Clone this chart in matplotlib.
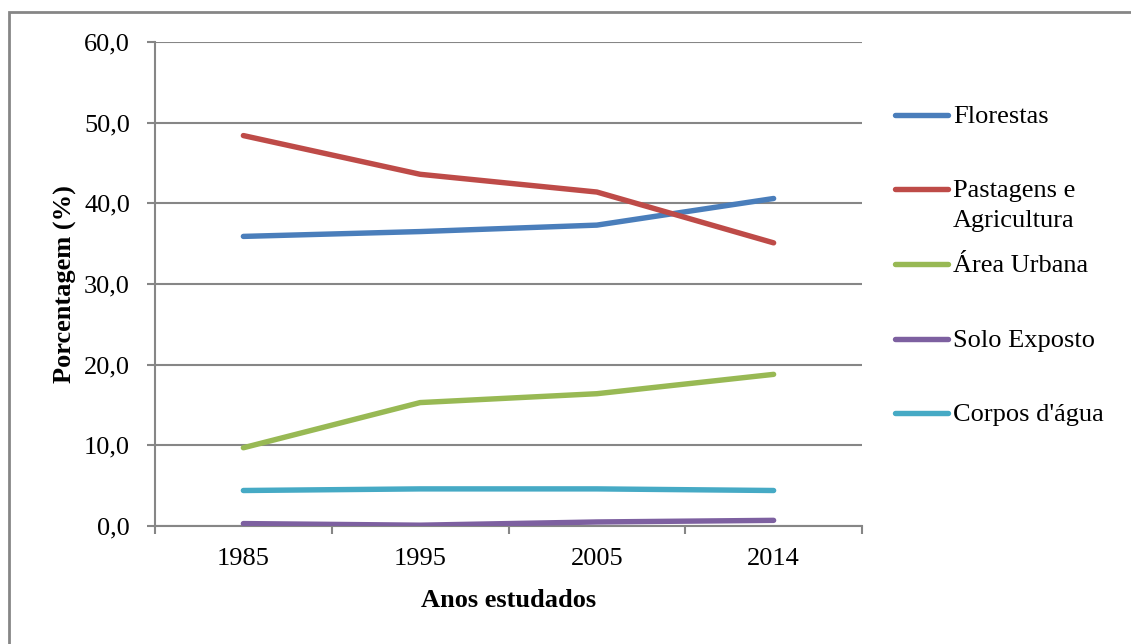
import matplotlib
matplotlib.use("Agg")
import matplotlib.pyplot as plt
from matplotlib.lines import Line2D
from matplotlib.patches import Rectangle

plt.rcParams['font.family'] = ['Liberation Serif', 'DejaVu Serif']

anos = ["1985", "1995", "2005", "2014"]
florestas = [35.9, 36.5, 37.3, 40.6]
pastagens = [48.4, 43.6, 41.4, 35.1]
area_urbana = [9.7, 15.3, 16.4, 18.8]
solo_exposto = [0.3, 0.1, 0.5, 0.7]
corpos_agua = [4.4, 4.6, 4.6, 4.4]

nomes = ["Florestas", "Pastagens e\nAgricultura", "Área Urbana", "Solo Exposto", "Corpos d'água"]
cores = ["#4A7EBB", "#BE4B48", "#98B954", "#7D60A0", "#46AAC5"]
series = [florestas, pastagens, area_urbana, solo_exposto, corpos_agua]
y_ticks = [0, 10, 20, 30, 40, 50, 60]

W, H = 1131, 644
FS = 19
fig = plt.figure(figsize=(W / 100, H / 100), dpi=100)
ax = fig.add_axes([155 / W, 1 - 526 / H, 707 / W, 484 / H])

grid_col = "#868686"
x = list(range(len(anos)))
for vals, cor, nome in zip(series, cores, nomes):
    ax.plot(x, vals, color=cor, lw=3.9, solid_capstyle='round', solid_joinstyle='round', label=nome, zorder=3)

ax.set_xlim(-0.5, len(anos) - 0.5)
ax.set_ylim(0, 60)
ax.set_yticks(y_ticks)
ax.set_yticklabels([f"{v:.1f}".replace(".", ",") for v in y_ticks])
ax.set_xticks(x)
ax.set_xticklabels(anos)
ax.tick_params(axis='x', length=0, pad=15.5, labelsize=FS)
ax.tick_params(axis='y', length=6, width=1.5, color=grid_col, pad=12, labelsize=FS)
# category boundary ticks on the x axis
ax.set_xticks([i - 0.5 for i in range(len(anos) + 1)], minor=True)
ax.tick_params(axis='x', which='minor', length=5.5, width=1.5, color=grid_col)

ax.grid(axis='y', color=grid_col, lw=1.5, zorder=1)
for s in ['top', 'right']:
    ax.spines[s].set_visible(False)
for s in ['left', 'bottom']:
    ax.spines[s].set_color(grid_col)
    ax.spines[s].set_linewidth(1.5)

ax.set_ylabel("Porcentagem (%)", fontsize=FS, fontweight='bold', labelpad=5)
ax.set_xlabel("Anos estudados", fontsize=FS, fontweight='bold', labelpad=14)

# legend drawn by hand, handle aligned with the first text line
leg_y = [114.5, 189, 263.5, 338.5, 412.5]
for yy, cor, nome in zip(leg_y, cores, nomes):
    fy = 1 - yy / H
    fig.add_artist(Line2D([895 / W, 948 / W], [fy, fy], color=cor, lw=3.9, solid_capstyle='round'))
    for k, linha in enumerate(nome.split("\n")):
        fig.text(953 / W, 1 - (yy + 8.5 + 29.5 * k) / H, linha, fontsize=FS,
                 va='baseline', ha='left')

fig.add_artist(Rectangle((8.5 / W, -0.1), 1.2, 1 - 12 / H + 0.1, transform=fig.transFigure,
                         fill=False, edgecolor=grid_col, lw=2))

fig.savefig("out.png", dpi=100)
